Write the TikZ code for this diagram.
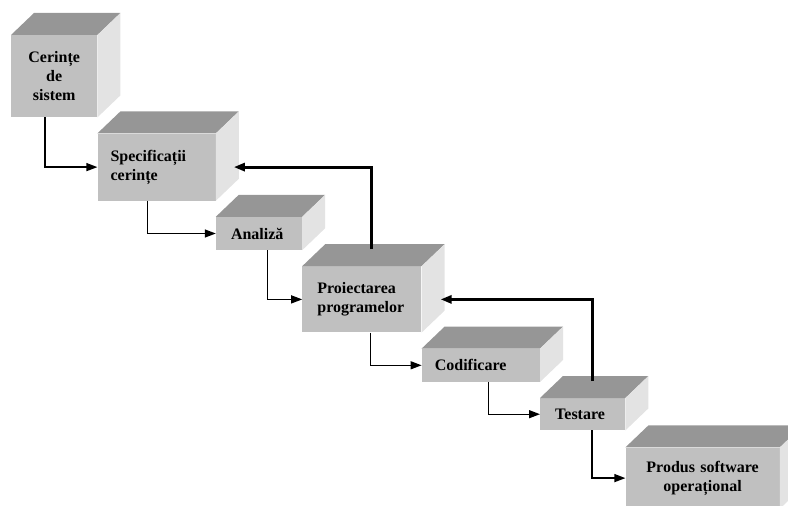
\documentclass[tikz,border=0pt]{standalone}
\usepackage{fontspec}
\setmainfont{Liberation Serif}
\usepackage{tikz}
\usetikzlibrary{arrows.meta,positioning,calc}
\definecolor{frontgray}{RGB}{192,192,192}
\definecolor{topgray}{RGB}{150,150,150}
\definecolor{sidegray}{RGB}{227,227,227}
\tikzset{
  stage/.style={rectangle,fill=frontgray,draw=none,inner xsep=14pt,inner ysep=0pt,
    align=left,font=\fontsize{16}{19}\selectfont\bfseries},
  stepline/.style={-{Triangle[length=11pt,width=8pt]},line width=1.3pt},
  feedback/.style={-{Triangle[length=11pt,width=8pt]},line width=3pt}
}

\begin{document}
\begin{tikzpicture}
  \useasboundingbox (-11pt,35pt) rectangle (777pt,-471pt);
  \node[stage, anchor=north west, align=center, text width=58pt, minimum height=82pt] (sist) at (0,0) {Cerințe\\de\\sistem};
  \node[stage, below right=16pt and 0pt of sist, inner xsep=13pt, text width=92pt, minimum height=67pt] (spec) {Specificații\\cerințe};
  \node[stage, below right=16pt and 0pt of spec, inner xsep=15pt, text width=56pt, minimum height=33pt] (anal) {Analiză};
  \node[stage, below right=16pt and 0pt of anal, inner xsep=15pt, text width=89pt, minimum height=66pt] (proi) {Proiectarea\\programelor};
  \node[stage, below right=16pt and 0pt of proi, inner xsep=13pt, text width=92pt, minimum height=33pt] (cod) {Codificare};
  \node[stage, below right=16pt and 0pt of cod, inner xsep=15pt, text width=55pt, minimum height=32pt] (test) {Testare};
  \node[stage, below right=17pt and 0pt of test, align=center, text width=126pt, minimum height=61pt] (prod) {Produs software\\operațional};
  % top and right faces of the boxes
  \foreach \n in {sist,spec,anal,proi,cod,test,prod} {
    \fill[topgray] (\n.north west) -- ++(23pt,22pt) -- ([shift={(23pt,22pt)}]\n.north east) -- (\n.north east) -- cycle;
    \fill[sidegray] (\n.north east) -- ++(23pt,22pt) -- ([shift={(23pt,22pt)}]\n.south east) -- (\n.south east) -- cycle;
  }
  % flow down the stages
  \draw[stepline] ([xshift=34pt]sist.south west) |- (spec.west);
  \draw[stepline] ([xshift=50pt]spec.south west) |- (anal.west);
  \draw[stepline] ([xshift=52pt]anal.south west) |- (proi.west);
  \draw[stepline] ([xshift=68pt]proi.south west) |- (cod.west);
  \draw[stepline] ([xshift=67pt]cod.south west) |- (test.west);
  \draw[stepline] ([xshift=52pt]test.south west) |- (prod.west);
  % back loops
  \draw[feedback] ([shift={(10pt,17pt)}]proi.north) |- ([xshift=18pt]spec.east);
  \draw[feedback] ([shift={(10pt,17pt)}]test.north) |- ([xshift=19pt]proi.east);
\end{tikzpicture}
\end{document}
